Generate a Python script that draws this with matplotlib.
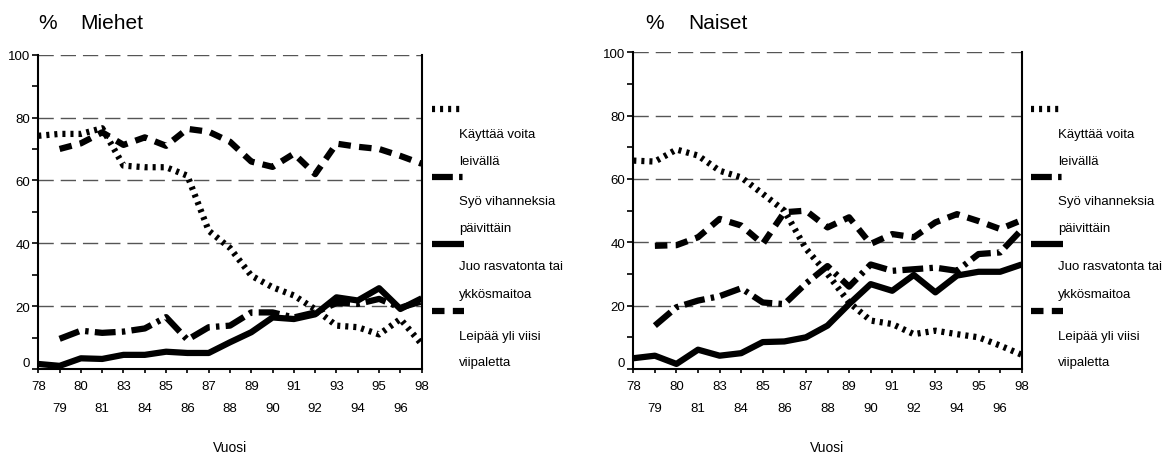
import numpy as np
import matplotlib
matplotlib.use("Agg")
import matplotlib.pyplot as plt
from matplotlib.lines import Line2D
from matplotlib.transforms import ScaledTranslation

plt.rcParams['font.family'] = ['Liberation Sans', 'DejaVu Sans']
plt.rcParams['lines.scale_dashes'] = False

nan = np.nan
years = ["78", "79", "80", "81", "83", "84", "85", "86", "87", "88",
         "89", "90", "91", "92", "93", "94", "95", "96", "98"]

legend_labels = [("Käyttää voita", "leivällä"),
                 ("Syö vihanneksia", "päivittäin"),
                 ("Juo rasvatonta tai", "ykkösmaitoa"),
                 ("Leipää yli viisi", "viipaletta")]

# Miehet (men)
men_butter = [74.2, 74.8, 74.8, 76.6, 64.7, 64.2, 64.2, 61.5, 44.0, 38.5,
              29.7, 26.0, 23.4, 19.0, 13.8, 13.3, 11.0, 15.9, 7.9]
men_veg = [nan, 9.6, 12.2, 11.5, 11.9, 12.9, 16.5, 9.3, 13.3, 13.8,
           18.0, 18.0, 16.4, 18.0, 21.0, 20.7, 22.3, 19.5, 21.5]
men_milk = [1.6, 1.0, 3.4, 3.2, 4.5, 4.5, 5.5, 5.1, 5.1, 8.5,
            11.7, 16.4, 15.9, 17.4, 22.8, 21.8, 25.7, 19.1, 22.5]
men_bread = [nan, 70.0, 71.8, 75.3, 71.3, 73.7, 71.0, 76.4, 75.5, 72.3,
             66.0, 64.3, 68.5, 62.0, 71.7, 70.7, 70.0, 67.8, 65.3]

# Naiset (women)
women_butter = [65.8, 65.5, 69.3, 67.4, 62.6, 60.5, 55.3, 50.0, 38.0, 30.0,
                21.0, 15.3, 14.2, 11.0, 12.1, 11.0, 10.0, 7.4, 4.5]
women_veg = [nan, 13.7, 19.5, 21.6, 23.0, 25.5, 21.0, 20.5, 27.0, 32.5,
             26.0, 33.0, 31.0, 31.5, 32.0, 31.0, 36.3, 36.8, 44.0]
women_milk = [3.4, 4.2, 1.6, 6.1, 4.2, 5.0, 8.5, 8.7, 10.0, 13.7,
              20.5, 26.8, 24.7, 29.7, 24.2, 29.5, 30.7, 30.7, 33.0]
women_bread = [nan, 38.9, 39.1, 41.6, 47.4, 45.3, 39.5, 49.5, 50.0, 44.7,
               47.9, 39.5, 42.6, 41.6, 46.3, 48.9, 46.7, 44.2, 47.0]

styles = [(0, (2.2, 3.6)),            # dotted
          (0, (15, 4.5, 2.5, 4.5)),   # dash-dot
          '-',                        # solid
          (0, (9, 6))]                # dashed
LW = 4.5

W, H = 1167, 456
fig = plt.figure(figsize=(W / 100, H / 100), dpi=100)


def fx(x):
    return x / W


def fy(y):
    return 1 - y / H


def make_panel(x0, x1, ytop, ybot, title_pct_x, title_x, title, series, leg_x0, leg_tx):
    ax = fig.add_axes([fx(x0), fy(ybot), fx(x1) - fx(x0), fy(ytop) - fy(ybot)])
    xs = np.arange(len(years))
    for vals, ls in zip(series, styles):
        ax.plot(xs, vals, color='black', lw=LW, linestyle=ls,
                solid_capstyle='butt', dash_capstyle='butt', zorder=3)
    ax.set_xlim(0, len(years) - 1)
    ax.set_ylim(0, 100)
    for g in [20, 40, 60, 80, 100]:
        ax.axhline(g, color='#555555', lw=1.0, linestyle=(0, (11, 5)), zorder=1)
    ax.spines['top'].set_visible(False)
    for s in ['left', 'bottom', 'right']:
        ax.spines[s].set_linewidth(1.5)
        ax.spines[s].set_color('black')
    ax.set_yticks(np.arange(0, 101, 20))
    ax.set_yticks(np.arange(10, 100, 20), minor=True)
    ax.set_yticklabels([str(v) for v in range(0, 101, 20)])
    ax.tick_params(axis='y', which='both', direction='out', length=4, width=1.2,
                   labelsize=9.5, pad=2)
    lbl0 = ax.get_yticklabels()[0]
    lbl0.set_transform(lbl0.get_transform() + ScaledTranslation(0, 7 / 100, fig.dpi_scale_trans))
    ax.set_xticks(xs[::2])
    ax.set_xticklabels(years[::2])
    ax.set_xticks(xs[1::2], minor=True)
    ax.set_xticklabels(years[1::2], minor=True)
    ax.tick_params(axis='x', which='both', direction='out', length=3, width=1.2,
                   labelsize=9.5)
    ax.tick_params(axis='x', which='major', pad=5)
    ax.tick_params(axis='x', which='minor', pad=21)
    # titles
    fig.text(fx(title_pct_x), fy(24), "%", fontsize=15, ha='left', va='center')
    fig.text(fx(title_x), fy(24), title, fontsize=15, ha='left', va='center')
    fig.text(fx((x0 + x1) / 2), fy(448), "Vuosi", fontsize=10, ha='center', va='center')
    # legend
    hy = [110, 178, 245, 312]
    ty1 = [135, 202, 267, 337]
    ty2 = [162, 229, 295, 363]
    for (l1, l2), ls, h, t1, t2 in zip(legend_labels, styles, hy, ty1, ty2):
        fig.add_artist(Line2D([fx(leg_x0), fx(leg_x0 + 32)], [fy(h), fy(h)],
                              color='black', lw=LW, linestyle=ls,
                              solid_capstyle='butt', dash_capstyle='butt'))
        fig.text(fx(leg_tx), fy(t1), l1, fontsize=9.5, ha='left', va='center')
        fig.text(fx(leg_tx), fy(t2), l2, fontsize=9.5, ha='left', va='center')
    return ax


make_panel(38.3, 421.7, 55.7, 370, 38, 80, "Miehet",
           [men_butter, men_veg, men_milk, men_bread], 432, 459)
make_panel(633.3, 1021.7, 53.3, 370, 645, 688, "Naiset",
           [women_butter, women_veg, women_milk, women_bread], 1031, 1058)

fig.savefig("out.png", dpi=100)
